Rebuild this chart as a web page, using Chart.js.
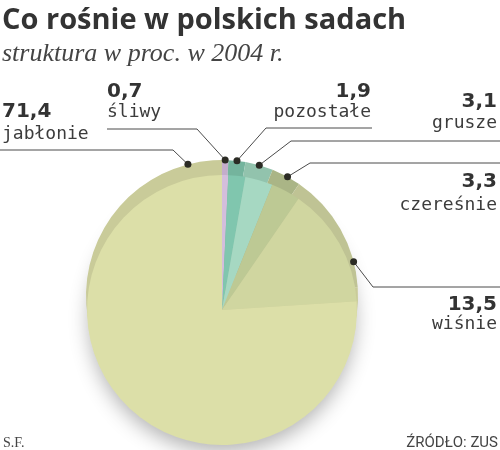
<!DOCTYPE html>
<html>
<head>
<meta charset="utf-8">
<script src="https://cdn.jsdelivr.net/npm/chart.js@4/dist/chart.umd.min.js"></script>
<style>
    html, body { margin: 0; padding: 0; background: #ffffff; }
    #wrap { width: 500px; height: 450px; }
</style>
</head>
<body>
<div id="wrap"><canvas id="pieChart" width="500" height="450"></canvas></div>
<script>
// Co rośnie w polskich sadach - struktura w proc. w 2004 r.
const categories = ['śliwy', 'pozostałe', 'grusze', 'czereśnie', 'wiśnie', 'jabłonie'];
const shares = [0.7, 1.9, 3.1, 3.3, 13.5, 71.4];

const sliceColors = ['#d4bedc', '#80c6ae', '#a6d8c2', '#bdc994', '#d0d6a0', '#dcdfa8'];
const rimColors = ['#c4adcb', '#74b49d', '#92c3ad', '#aab586', '#bfc394', '#c9cb99'];

// where each label sits: fraction along the slice for the dot, leader line and text anchors
const labelLayout = [
    { frac: 0.5,  lineY: 129, kneeX: 197, endX: 107, align: 'left',  textX: 107, numY: 97,  nameY: 117 },
    { frac: 0.5,  lineY: 128, kneeX: 266, endX: 372, align: 'right', textX: 371, numY: 97,  nameY: 117 },
    { frac: 0.5,  lineY: 141, kneeX: 291, endX: 500, align: 'right', textX: 497, numY: 107, nameY: 128 },
    { frac: 0.55, lineY: 163, kneeX: 310, endX: 500, align: 'right', textX: 497, numY: 187, nameY: 210 },
    { frac: 0.79, lineY: 287, kneeX: 373, endX: 500, align: 'right', textX: 497, numY: 310, nameY: 329 },
    { frac: 0.947, lineY: 150, kneeX: 173, endX: 0,  align: 'left',  textX: 2,   numY: 117, nameY: 139 }
];

const rimOffset = 14;

// darker top rim + soft shadow, drawn from the pie's own arc elements
const rimPlugin = {
    id: 'rim',
    beforeDatasetsDraw(chart) {
        const ctx = chart.ctx;
        const arcs = chart.getDatasetMeta(0).data;
        const first = arcs[0];

        ctx.save();
        ctx.shadowColor = 'rgba(0, 0, 0, 0.3)';
        ctx.shadowBlur = 20;
        ctx.shadowOffsetY = 9;
        ctx.beginPath();
        ctx.arc(first.x, first.y, first.outerRadius - 2, 0, Math.PI * 2);
        ctx.fillStyle = sliceColors[5];
        ctx.fill();
        ctx.restore();

        ctx.save();
        arcs.forEach((arc, i) => {
            ctx.beginPath();
            ctx.moveTo(arc.x, arc.y - rimOffset);
            ctx.arc(arc.x, arc.y - rimOffset, arc.outerRadius + 1, arc.startAngle, arc.endAngle);
            ctx.closePath();
            ctx.fillStyle = rimColors[i];
            ctx.fill();
        });
        ctx.restore();
    }
};

// leader lines, dots, values and names, footer texts
const labelPlugin = {
    id: 'sliceLabels',
    afterDatasetsDraw(chart) {
        const ctx = chart.ctx;
        const arcs = chart.getDatasetMeta(0).data;

        ctx.save();
        arcs.forEach((arc, i) => {
            const lay = labelLayout[i];
            const angle = arc.startAngle + lay.frac * (arc.endAngle - arc.startAngle);
            const r = arc.outerRadius + 1;
            const dx = arc.x + r * Math.cos(angle);
            const dy = arc.y - rimOffset + r * Math.sin(angle);

            ctx.strokeStyle = '#4a4a4a';
            ctx.lineWidth = 1;
            ctx.beginPath();
            ctx.moveTo(dx, dy);
            ctx.lineTo(lay.kneeX, lay.lineY);
            ctx.lineTo(lay.endX, lay.lineY);
            ctx.stroke();

            ctx.fillStyle = '#2b2b24';
            ctx.beginPath();
            ctx.arc(dx, dy, 3.5, 0, Math.PI * 2);
            ctx.fill();

            ctx.textAlign = lay.align;
            ctx.textBaseline = 'alphabetic';
            ctx.fillStyle = '#333333';
            ctx.font = 'bold 20px "DejaVu Sans"';
            ctx.fillText(shares[i].toFixed(1).replace('.', ','), lay.textX, lay.numY);
            ctx.fillStyle = '#3c3c3c';
            ctx.font = '18px "DejaVu Sans Mono"';
            ctx.fillText(categories[i], lay.textX, lay.nameY);
        });

        ctx.fillStyle = '#444444';
        ctx.textAlign = 'left';
        ctx.font = '14px "Liberation Serif"';
        ctx.fillText('S.F.', 3, 447);
        ctx.textAlign = 'right';
        ctx.font = '15px Roboto';
        ctx.fillText('ŹRÓDŁO: ZUS', 498, 447);
        ctx.restore();
    }
};

const ctx = document.getElementById('pieChart').getContext('2d');

const pieChart = new Chart(ctx, {
    type: 'pie',
    data: {
        labels: categories,
        datasets: [{
            data: shares,
            backgroundColor: sliceColors,
            borderWidth: 0,
            hoverOffset: 0
        }]
    },
    options: {
        responsive: false,
        animation: false,
        layout: {
            padding: { left: 2, right: 58, top: 0, bottom: 5 }
        },
        plugins: {
            legend: { display: false },
            tooltip: { enabled: false },
            title: {
                display: true,
                text: 'Co rośnie w polskich sadach',
                align: 'start',
                color: '#333333',
                font: { family: '"Open Sans"', size: 29, weight: 'bold', lineHeight: 1.2 },
                padding: { top: 3.6, bottom: 0 }
            },
            subtitle: {
                display: true,
                text: 'struktura w proc. w 2004 r.',
                align: 'start',
                color: '#444444',
                font: { family: '"Liberation Serif"', size: 26, style: 'italic', lineHeight: 1.2 },
                padding: { top: 0, bottom: 105.4 }
            }
        }
    },
    plugins: [rimPlugin, labelPlugin]
});
</script>
</body>
</html>
